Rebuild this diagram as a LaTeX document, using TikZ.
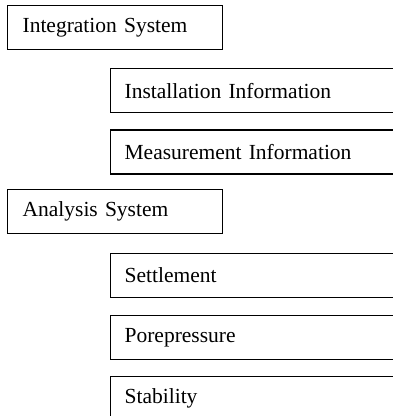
\documentclass[tikz,border=0pt]{standalone}
\usepackage{fontspec}
\setmainfont{Liberation Serif}
\usetikzlibrary{positioning}
\tikzset {
    box/.style = {
        draw,
        shape = rectangle,
        line width=1.2pt,
        minimum height=44pt,
        inner xsep=15pt,
        font = \fontsize{21.5}{24}\selectfont,
        align = left
    },
    system/.style = {
        box,
        text width=185pt % 215pt wide box
    },
    item/.style = {
        box,
        inner xsep=14pt,
        text width=300pt % runs past the right edge
    }
}

\begin{document}
\begin{tikzpicture}
        \path[use as bounding box] (0,0) rectangle (393pt,-416pt);
        \clip (0,0) rectangle (393pt,-416pt);

        % Integration system and its two items
        \node [system, anchor=north west] at (7pt,-5pt)                      (integration)  {Integration System};
        \node [item, below right=18pt and 103pt of integration.south west]   (installation) {Installation Information};
        \node [item, below right=16pt and 0pt of installation.south west]    (measurement)  {Measurement Information};

        % Analysis system and its three items
        \node [system, below right=14pt and -103pt of measurement.south west] (analysis)     {Analysis System};
        \node [item, below right=19pt and 103pt of analysis.south west]      (settlement)   {Settlement};
        \node [item, below right=17pt and 0pt of settlement.south west]      (porepressure) {Porepressure};
        \node [item, below right=16pt and 0pt of porepressure.south west]    (stability)    {Stability};
\end{tikzpicture}
\end{document}
